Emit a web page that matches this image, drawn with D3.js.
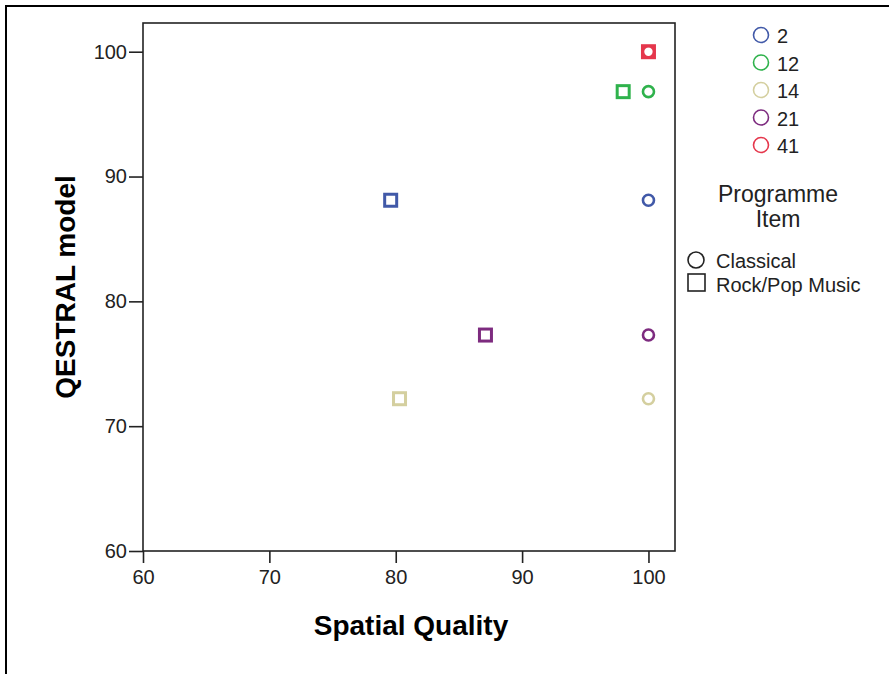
<!DOCTYPE html>
<html>
<head>
<meta charset="utf-8">
<script src="https://cdn.jsdelivr.net/npm/d3@7"></script>
<style>
  html, body { margin: 0; padding: 0; background: #fff; }
  svg { display: block; font-family: "Liberation Sans", Arial, sans-serif; }
</style>
</head>
<body>
<svg id="chart" width="889" height="674"></svg>
<script>
// Programme items (colour groups) and genres (marker shapes)
const items = ["2", "12", "14", "21", "41"];
const itemColors = ["#4159a8", "#2fb24c", "#d4cf9f", "#7d2b7f", "#e5374c"];
const genres = ["Classical", "Rock/Pop Music"];

// Spatial Quality (x) and QESTRAL model (y) per item, for each genre
const classicalX = [100, 100, 100, 100, 100];
const classicalY = [88.1, 96.8, 72.2, 77.3, 100];
const rockPopX = [79.6, 98.0, 80.3, 87.1, 100];
const rockPopY = [88.1, 96.8, 72.2, 77.3, 100];

const xTicks = [60, 70, 80, 90, 100];
const yTicks = [60, 70, 80, 90, 100];

const svg = d3.select("#chart");

// outer frame
svg.append("path")
  .attr("d", "M6,674 V6 H889")
  .attr("fill", "none").attr("stroke", "#000").attr("stroke-width", 2);

const plot = { left: 143, right: 675, top: 23, bottom: 551 };
const x = d3.scaleLinear().domain([60, 102.1]).range([plot.left, plot.right]);
const y = d3.scaleLinear().domain([60, 102.3]).range([plot.bottom, plot.top]);

// axes
const xAxis = svg.append("g")
  .attr("transform", `translate(0,${plot.bottom})`)
  .call(d3.axisBottom(x).tickValues(xTicks).tickSize(12).tickSizeOuter(0).tickPadding(7));
const yAxis = svg.append("g")
  .attr("transform", `translate(${plot.left},0)`)
  .call(d3.axisLeft(y).tickValues(yTicks).tickSize(14).tickSizeOuter(0).tickPadding(2));
[xAxis, yAxis].forEach(g => {
  g.selectAll("text").attr("font-size", 20).attr("fill", "#222")
    .attr("font-family", "'Liberation Sans', Arial, sans-serif");
  g.selectAll("line").attr("stroke", "#222").attr("stroke-width", 1.6);
  g.select(".domain").remove();
});

// plot frame
svg.append("rect")
  .attr("x", plot.left).attr("y", plot.top)
  .attr("width", plot.right - plot.left).attr("height", plot.bottom - plot.top)
  .attr("fill", "none").attr("stroke", "#222").attr("stroke-width", 1.6);

// axis titles
svg.append("text")
  .attr("x", 411).attr("y", 635)
  .attr("text-anchor", "middle").attr("font-size", 28).attr("font-weight", "bold")
  .text("Spatial Quality");
svg.append("text")
  .attr("transform", "translate(75,287) rotate(-90)")
  .attr("text-anchor", "middle").attr("font-size", 28).attr("font-weight", "bold")
  .text("QESTRAL model");

// markers: squares for Rock/Pop, circles for Classical
const marks = svg.append("g");
items.forEach((it, i) => {
  marks.append("rect")
    .attr("x", x(rockPopX[i]) - 6).attr("y", y(rockPopY[i]) - 6)
    .attr("width", 12).attr("height", 12)
    .attr("fill", "none").attr("stroke", itemColors[i]).attr("stroke-width", 3);
});
items.forEach((it, i) => {
  marks.append("circle")
    .attr("cx", x(classicalX[i])).attr("cy", y(classicalY[i])).attr("r", 5.5)
    .attr("fill", "none").attr("stroke", itemColors[i]).attr("stroke-width", 2.6);
});

// colour legend
const legend = svg.append("g");
items.forEach((it, i) => {
  const cy = 35 + i * 27.5;
  legend.append("circle")
    .attr("cx", 761).attr("cy", cy).attr("r", 7.5)
    .attr("fill", "none").attr("stroke", itemColors[i]).attr("stroke-width", 1.6);
  legend.append("text")
    .attr("x", 777).attr("y", cy + 8).attr("font-size", 20).attr("fill", "#222")
    .text(it);
});

// shape legend
legend.append("text").attr("x", 778).attr("y", 202)
  .attr("text-anchor", "middle").attr("font-size", 23).attr("fill", "#222").text("Programme");
legend.append("text").attr("x", 778).attr("y", 227)
  .attr("text-anchor", "middle").attr("font-size", 23).attr("fill", "#222").text("Item");
legend.append("circle")
  .attr("cx", 696).attr("cy", 260).attr("r", 8)
  .attr("fill", "none").attr("stroke", "#222").attr("stroke-width", 1.6);
legend.append("rect")
  .attr("x", 688).attr("y", 274).attr("width", 17).attr("height", 17)
  .attr("fill", "none").attr("stroke", "#222").attr("stroke-width", 1.6);
genres.forEach((g, i) => {
  legend.append("text")
    .attr("x", 716).attr("y", 268 + i * 24).attr("font-size", 20).attr("fill", "#222")
    .text(g);
});
</script>
</body>
</html>
